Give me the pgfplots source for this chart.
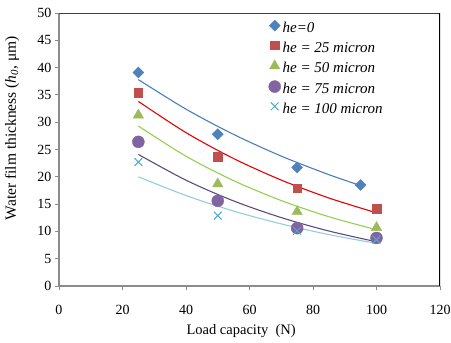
\documentclass[border=0pt]{standalone}
\usepackage{pgfplots}
\pgfplotsset{compat=1.18}
\usepackage{fontspec}
\setmainfont{Liberation Serif}
\definecolor{mblue}{HTML}{4F81BD}
\definecolor{mred}{HTML}{C0504D}
\definecolor{mgreen}{HTML}{9BBB59}
\definecolor{mpurple}{HTML}{8064A2}
\definecolor{mcyan}{HTML}{4BACC6}
\definecolor{lblue}{HTML}{4A7EBB}
\definecolor{lred}{HTML}{E60000}
\definecolor{lgreen}{HTML}{92D050}
\definecolor{lpurple}{HTML}{604A7B}
\definecolor{lcyan}{HTML}{93CDDD}
\definecolor{axisgray}{HTML}{8C8C8C}
\begin{document}
\begin{tikzpicture}[font=\fontsize{14}{16.8}\selectfont]
\begin{axis}[
  scale only axis, width=381pt, height=273pt,
  xmin=0, xmax=120, ymin=0, ymax=50,
  xtick={0,20,...,120}, ytick={0,5,...,50},
  axis lines=left,
  axis line style={draw=axisgray, line width=1.2pt, -},
  tick align=outside,
  major tick style={draw=axisgray, line width=1pt},
  major tick length=4pt,
  /pgf/number format/assume math mode=true,
  xticklabel={\pgfmathprintnumber{\tick}},
  yticklabel={\pgfmathprintnumber{\tick}},
  x tick label style={font=\fontsize{14}{16.8}\selectfont, yshift=-12pt},
  y tick label style={font=\fontsize{14}{16.8}\selectfont},
  every axis x label/.style={at={(axis description cs:0.478,-0.166)}, anchor=center, font=\fontsize{14.5}{17}\selectfont},
  every axis y label/.style={at={(axis description cs:-0.123,0.578)}, anchor=center, rotate=90, font=\fontsize{15.5}{18}\selectfont},
  xlabel={Load capacity \ (N)},
  ylabel={Water film thickness (\textit{h}\textsubscript{\textit{0}}, μm)},
  legend style={at={(axis description cs:0.542,0.982)}, anchor=north west, draw=none, fill=none,
    font=\fontsize{15}{18}\selectfont,
    nodes={inner sep=2pt, text height=10pt, text depth=3pt}, row sep=2.7pt},
  legend cell align=left,
  legend image code/.code={\draw[#1] plot coordinates {(0.15cm,0.12cm)};},
]
% trend lines (Excel exponential trendlines)
\addplot[lblue, line width=1.1pt, smooth, forget plot] coordinates {(25,37.8)(40,32.39)(55,27.76)(70,23.79)(85,20.39)(95,18.40)};
\addplot[lred, line width=1.1pt, smooth, forget plot] coordinates {(25,33.8)(40,28.09)(55,23.34)(70,19.40)(85,16.12)(100,13.40)};
\addplot[lgreen, line width=1.1pt, smooth, forget plot] coordinates {(25,29.3)(40,23.77)(55,19.29)(70,15.65)(85,12.69)(100,10.30)};
\addplot[lpurple, line width=1.1pt, smooth, forget plot] coordinates {(25,24.1)(40,19.38)(55,15.58)(70,12.53)(85,10.07)(100,8.10)};
\addplot[lcyan, line width=1.1pt, smooth, forget plot] coordinates {(25,20.0)(40,16.57)(55,13.72)(70,11.37)(85,9.42)(100,7.80)};
% data points
\addplot[only marks, mark=square*, mark size=3.9pt, mark options={rotate=45, fill=mblue, draw=mblue}] coordinates {(25,39.1)(50,27.8)(75,21.7)(95,18.5)};
\addlegendentry{\textit{he=0}}
\addplot[only marks, mark=square*, mark size=4.3pt, mark options={fill=mred, draw=mred}] coordinates {(25,35.4)(50,23.7)(75,17.9)(100,14.2)};
\addlegendentry{\textit{he = 25 micron}}
\addplot[only marks, mark=triangle*, mark size=6pt, mark options={fill=mgreen, draw=mgreen}] coordinates {(25,31.3)(50,18.7)(75,13.6)(100,10.7)};
\addlegendentry{\textit{he = 50 micron}}
\addplot[only marks, mark=*, mark size=6pt, mark options={fill=mpurple, draw=mpurple}] coordinates {(25,26.4)(50,15.6)(75,10.6)(100,8.8)};
\addlegendentry{\textit{he = 75 micron}}
\addplot[only marks, mark=x, mark size=5.5pt, mark options={draw=mcyan, line width=1pt}] coordinates {(25,22.7)(50,12.9)(75,10.1)(100,8.5)};
\addlegendentry{\textit{he = 100 micron}}
\draw[black!75, line width=1pt] (rel axis cs:0,1) -- (rel axis cs:1,1);
\draw[black, line width=1.2pt] (rel axis cs:1,1) -- (rel axis cs:1,0);
\end{axis}
\pgfresetboundingbox
\path ([xshift=-59pt,yshift=-56pt]current axis.south west) rectangle ([xshift=11pt,yshift=13pt]current axis.north east);
\end{tikzpicture}
\end{document}
